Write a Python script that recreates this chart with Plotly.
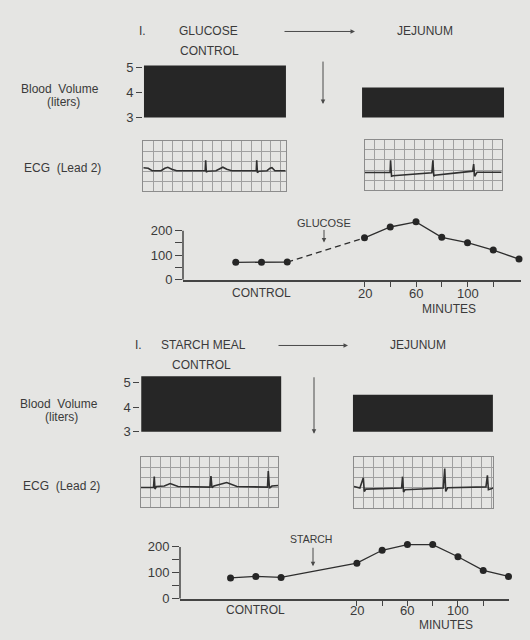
import plotly.graph_objects as go

# ---------------- data ----------------
bv_categories = ["CONTROL", "JEJUNUM"]
glucose_blood_volume = [5.09, 4.21]
starch_blood_volume = [5.25, 4.50]

control_x = [-80, -60, -40]
minutes = [20, 40, 60, 80, 100, 120, 140]
glucose_control = [71, 71, 72]
glucose_after = [171, 215, 236, 173, 151, 121, 84]
starch_control = [80, 86, 82]
starch_after = [137, 187, 209, 209, 162, 109, 86]

sugar_ticks = [0, 50, 100, 150, 200]
sugar_ticktext = ["0", "", "100", "", "200"]
minute_ticks = [20, 40, 60, 80, 100, 120]
minute_ticktext = ["20", "", "60", "", "100", ""]
bv_ticks = [3, 4, 5]

# ECG traces (grid units: x = small squares, y = small squares from bottom)
ecg_glu_ctrl_x = [0, 0.5, 0.9, 1.8, 2.2, 2.5, 2.9, 3.4, 6.3, 6.35, 6.42, 6.55, 7.4, 7.8, 8.1, 8.5, 9.0,
                  11.5, 11.55, 11.62, 11.75, 12.6, 12.9, 13.1, 13.4, 14.5]
ecg_glu_ctrl_y = [2.35, 2.3, 2.05, 2.05, 2.3, 2.4, 2.2, 2.05, 2.05, 3.1, 1.9, 2.0, 2.05, 2.3, 2.4, 2.2, 2.05,
                  2.05, 3.1, 1.85, 2.0, 2.05, 2.3, 2.35, 2.05, 2.05]
ecg_glu_jej_x = [0, 2.55, 2.6, 2.7, 2.85, 6.8, 6.9, 7.0, 7.1, 10.95, 11.05, 11.15, 11.4, 13.9]
ecg_glu_jej_y = [1.77, 1.8, 2.97, 1.4, 1.45, 1.75, 2.97, 1.4, 1.5, 1.9, 2.6, 1.4, 1.8, 1.8]
ecg_sta_ctrl_x = [0, 1.3, 1.38, 1.45, 1.6, 2.4, 3.0, 3.8, 7.05, 7.15, 7.25, 7.45, 8.2, 8.75, 9.8,
                  12.9, 12.98, 13.1, 13.35, 14.0]
ecg_sta_ctrl_y = [1.96, 1.96, 3.04, 1.8, 2.05, 2.1, 2.35, 2.05, 2.0, 3.1, 1.95, 2.1, 2.3, 2.45, 2.05,
                  2.0, 3.6, 1.9, 2.1, 2.15]
ecg_sta_jej_x = [0, 0.6, 0.95, 1.05, 1.2, 4.85, 4.95, 5.05, 5.2, 9.1, 9.25, 9.35, 9.55, 13.45, 13.6, 13.7, 14.2]
ecg_sta_jej_y = [2.09, 1.94, 2.96, 1.6, 1.83, 1.94, 3.06, 1.55, 1.77, 1.94, 3.87, 1.6, 1.97, 2.05, 3.2, 1.77, 1.94]

# ---------------- styling ----------------
W, H = 530, 640
BG = "#e5e5e3"
INK = "#262626"
TXT = "#3a3a3a"
FONT = "Liberation Sans"


def px(x0, x1):
    return [x0 / W, x1 / W]


def py(top, bottom):
    return [1 - bottom / H, 1 - top / H]


fig = go.Figure()

# Blood volume bars
fig.add_trace(go.Bar(x=bv_categories, y=glucose_blood_volume, width=0.651,
                     marker=dict(color=INK, line=dict(width=0)), xaxis="x", yaxis="y"))
fig.add_trace(go.Bar(x=bv_categories, y=starch_blood_volume, width=0.661,
                     marker=dict(color=INK, line=dict(width=0)), xaxis="x5", yaxis="y5"))

# ECG traces
ecg_line = dict(color="#303030", width=1.6)
for xs, ys, ax in [(ecg_glu_ctrl_x, ecg_glu_ctrl_y, "2"), (ecg_glu_jej_x, ecg_glu_jej_y, "3"),
                   (ecg_sta_ctrl_x, ecg_sta_ctrl_y, "6"), (ecg_sta_jej_x, ecg_sta_jej_y, "7")]:
    fig.add_trace(go.Scatter(x=xs, y=ys, mode="lines", line=ecg_line,
                             xaxis="x" + ax, yaxis="y" + ax, hoverinfo="skip"))

# Blood sugar curves
mk = dict(color=INK, size=7)
ln = dict(color="#2e2e2e", width=1.3)
# glucose
fig.add_trace(go.Scatter(x=control_x, y=glucose_control, mode="lines+markers", marker=mk, line=ln,
                         xaxis="x4", yaxis="y4", cliponaxis=False))
fig.add_trace(go.Scatter(x=[control_x[-1], minutes[0]], y=[glucose_control[-1], glucose_after[0]],
                         mode="lines", line=dict(color="#2e2e2e", width=1.3, dash="6px,4px"),
                         xaxis="x4", yaxis="y4"))
fig.add_trace(go.Scatter(x=minutes, y=glucose_after, mode="lines+markers", marker=mk, line=ln,
                         xaxis="x4", yaxis="y4", cliponaxis=False))
# starch
fig.add_trace(go.Scatter(x=control_x + minutes, y=starch_control + starch_after, mode="lines+markers",
                         marker=mk, line=ln, xaxis="x8", yaxis="y8", cliponaxis=False))

# ---------------- axes ----------------
hidden_x = dict(showticklabels=False, showline=False, showgrid=False, zeroline=False, ticks="")
bv_y = dict(tickvals=bv_ticks, ticks="outside", ticklen=6, tickwidth=1.3, tickcolor="#444",
            showline=False, showgrid=False, zeroline=False,
            tickfont=dict(family=FONT, size=13, color=TXT))
ecg_x = dict(showgrid=True, gridcolor="#a0a0a0", gridwidth=0.7, dtick=1, tick0=0, showticklabels=False,
             ticks="", zeroline=False, showline=True, linecolor="#8c8c8c", linewidth=1, mirror=True)
ecg_y = dict(ecg_x, range=[0, 5])
sugar_x = dict(tickvals=minute_ticks, ticks="outside", ticklen=6, tickwidth=1.3, showticklabels=False,
               tickcolor="#444", showline=True, linecolor="#444", linewidth=1.5, showgrid=False,
               zeroline=False)
sugar_y = dict(tickvals=sugar_ticks, ticktext=sugar_ticktext, ticks="outside", ticklen=7, tickwidth=1.3,
               tickcolor="#444", showline=False, showgrid=False, zeroline=False, range=[0, 250],
               tickfont=dict(family=FONT, size=13, color=TXT))

fig.update_layout(
    width=W, height=H, margin=dict(l=0, r=0, t=0, b=0),
    paper_bgcolor=BG, plot_bgcolor=BG, showlegend=False,
    font=dict(family=FONT, color=TXT, size=12),
    # top panel
    xaxis=dict(hidden_x, domain=px(143, 505), range=[-0.33, 1.33]),
    yaxis=dict(bv_y, domain=py(62, 115.7), range=[3, 5.12]),
    xaxis2=dict(ecg_x, domain=px(143.3, 285.7), range=[0, 14.5]),
    yaxis2=dict(ecg_y, domain=py(140, 190.7)),
    xaxis3=dict(ecg_x, domain=px(365, 501.7), range=[0, 13.9]),
    yaxis3=dict(ecg_y, domain=py(138.3, 190)),
    xaxis4=dict(sugar_x, domain=px(183, 521), range=[-120.97, 141.55]),
    yaxis4=dict(sugar_y, domain=py(218.5, 281)),
    # bottom panel
    xaxis5=dict(hidden_x, domain=px(140.3, 494.9), range=[-0.335, 1.34]),
    yaxis5=dict(bv_y, domain=py(378.2, 436), range=[3, 5.3]),
    xaxis6=dict(ecg_x, domain=px(140.7, 278.3), range=[0, 14.0]),
    yaxis6=dict(ecg_y, domain=py(461.7, 512.7)),
    xaxis7=dict(ecg_x, domain=px(354, 493.3), range=[0, 14.2]),
    yaxis7=dict(ecg_y, domain=py(461.7, 513.3)),
    xaxis8=dict(sugar_x, domain=px(180, 509), range=[-120, 140.4]),
    yaxis8=dict(sugar_y, domain=py(540.1, 606)),
)
for i in ["", "2", "3", "4", "5", "6", "7", "8"]:
    fig.layout["yaxis" + i].anchor = "x" + i
    fig.layout["xaxis" + i].anchor = "y" + i

# y-axis lines of the blood sugar plots (0 to 200)
for ax in ["4", "8"]:
    fig.add_shape(type="line", xref="x" + ax + " domain", yref="y" + ax, x0=0, x1=0, y0=0, y1=200,
                  line=dict(color="#444", width=1.5))


# ---------------- text ----------------
def text(t, x, y, size=12, xanchor="center", **kw):
    fig.add_annotation(text=t, x=x / W, y=1 - y / H, xref="paper", yref="paper", showarrow=False,
                       xanchor=xanchor, yanchor="middle", font=dict(family=FONT, size=size, color=TXT), **kw)


def arrow(x_head, y_head, ax, ay):
    fig.add_annotation(text="", x=x_head / W, y=1 - y_head / H, xref="paper", yref="paper",
                       showarrow=True, arrowhead=2, arrowsize=0.9, arrowwidth=1, arrowcolor="#4a4a4a",
                       ax=ax, ay=ay)


def minute_labels(xref, y):
    for v, t in zip(minute_ticks, minute_ticktext):
        if t:
            fig.add_annotation(text=t, x=v, y=1 - y / H, xref=xref, yref="paper", showarrow=False,
                               yanchor="middle", font=dict(family=FONT, size=13, color=TXT))
    fig.add_annotation(text="CONTROL", x=control_x[1], y=1 - y / H, xref=xref, yref="paper",
                       showarrow=False, yanchor="middle", font=dict(family=FONT, size=12, color=TXT))


# top
text("I.", 142, 28)
text("GLUCOSE", 208, 28)
text("CONTROL", 209, 48)
text("JEJUNUM", 425, 28)
arrow(355, 28, -72, 0)
arrow(323, 102, 0, -44)
text("Blood&nbsp;&nbsp;Volume", 60, 87)
text("(liters)", 63, 100)
text("ECG&nbsp;&nbsp;(Lead 2)", 62, 167)
text("GLUCOSE", 324, 223, size=11)
arrow(324, 243, 0, -14)
minute_labels("x4", 295)
text("MINUTES", 449, 311)

# bottom
text("I.", 138, 348)
text("STARCH MEAL", 203, 348)
text("CONTROL", 201, 368)
text("JEJUNUM", 418, 348)
arrow(348, 348, -71, 0)
arrow(314, 438, 0, -58)
text("Blood&nbsp;&nbsp;Volume", 59, 408)
text("(liters)", 61, 421)
text("ECG&nbsp;&nbsp;(Lead 2)", 61, 491)
text("STARCH", 311, 545, size=10.5)
arrow(313, 573, 0, -20)
minute_labels("x8", 618)
text("MINUTES", 446, 633)

fig.write_html("out.html", config={"displayModeBar": False},
               post_script="document.body.style.margin='0';document.body.style.overflow='hidden';")
